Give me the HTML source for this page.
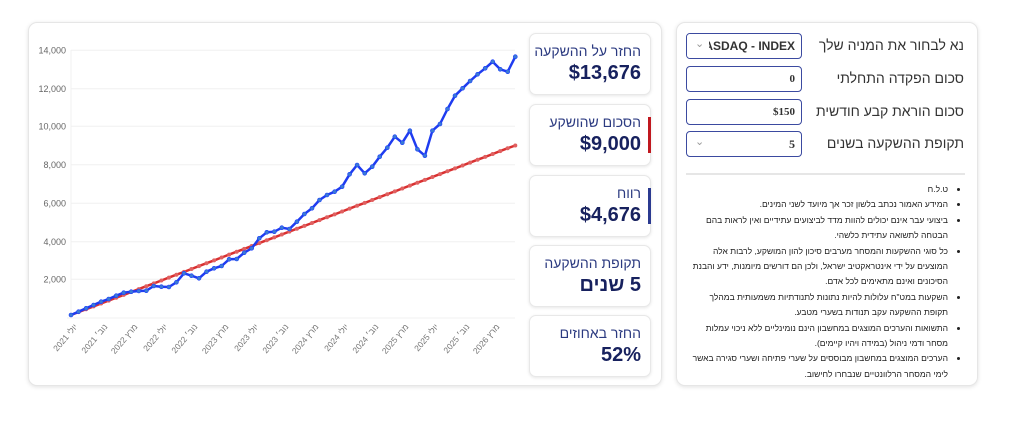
<!DOCTYPE html>
<html><head><meta charset="utf-8"><style>
body{margin:0;width:1024px;height:423px;background:#fff;font-family:"Liberation Sans","Noto Sans CJK SC",sans-serif;position:relative;overflow:hidden}
.card{position:absolute;background:#fff;border:1px solid #e6e6e6;border-radius:9px;box-shadow:0 1px 4px rgba(0,0,0,.12)}
.stat{position:absolute;left:529px;width:120px;height:60px;background:#fff;border:1px solid #e8e8e8;border-radius:7px;box-shadow:0 1px 3px rgba(0,0,0,.1);direction:rtl;color:#1c2a6e}
.stat .t{position:absolute;right:9px;top:9px;font-size:14px;color:#2b3a80}
.stat .v{position:absolute;right:9px;top:28px;font-size:20px;font-weight:bold;color:#17215e}
.bar{position:absolute;right:-1px;top:12px;width:3px;height:36px}
.row{position:absolute;left:686px;width:290px;height:26px}
.lbl{position:absolute;right:12px;top:4px;font-size:14px;color:#333;direction:rtl}
.box{position:absolute;left:0;top:0;width:114px;height:24px;border:1px solid #3b4aa0;border-radius:4px;font-family:"Liberation Serif",serif;font-weight:bold;font-size:11px;color:#333;overflow:hidden}
ul{position:absolute;left:686px;top:182px;width:276px;margin:0;padding:0 14px 0 0;direction:rtl;font-size:8.5px;line-height:15.4px;color:#222;list-style:disc;box-sizing:border-box}
</style></head><body>
<div class="card" style="left:28px;top:22px;width:632px;height:362px"></div>
<div class="card" style="left:676px;top:22px;width:300px;height:362px"></div>

<svg style="position:absolute;left:0;top:0" width="1024" height="423">
<defs>
<marker id="db" markerWidth="5" markerHeight="5" refX="2.5" refY="2.5" markerUnits="userSpaceOnUse"><circle cx="2.5" cy="2.5" r="2" fill="#3a7bd5" stroke="#1a3cff" stroke-width=".6"/></marker>
<marker id="dr" markerWidth="5" markerHeight="5" refX="2.5" refY="2.5" markerUnits="userSpaceOnUse"><circle cx="2.5" cy="2.5" r="2" fill="#e06060"/></marker>
</defs>
<g stroke="#f0f0f0" stroke-width="1">
<line x1="71" y1="50.3" x2="515" y2="50.3"/><line x1="71" y1="88.7" x2="515" y2="88.7"/><line x1="71" y1="126.3" x2="515" y2="126.3"/><line x1="71" y1="164.7" x2="515" y2="164.7"/><line x1="71" y1="203.3" x2="515" y2="203.3"/><line x1="71" y1="241.7" x2="515" y2="241.7"/><line x1="71" y1="279.3" x2="515" y2="279.3"/><line x1="67" y1="318" x2="515" y2="318"/><line x1="71" y1="50" x2="71" y2="318"/>
</g>
<g font-size="9" fill="#666" text-anchor="end" font-family="Liberation Sans,sans-serif">
<text x="66" y="53.5">14,000</text><text x="66" y="92">12,000</text><text x="66" y="129.5">10,000</text><text x="66" y="168">8,000</text><text x="66" y="206.5">6,000</text><text x="66" y="245">4,000</text><text x="66" y="282.5">2,000</text>
</g>
<g font-size="8.5" fill="#777" text-anchor="end" font-family="Liberation Sans,Noto Sans CJK SC,sans-serif">
<text transform="translate(78,327) rotate(-50)">יולי 2021</text>
<text transform="translate(108,327) rotate(-50)">נוב׳ 2021</text>
<text transform="translate(138,327) rotate(-50)">מרץ 2022</text>
<text transform="translate(168,327) rotate(-50)">יולי 2022</text>
<text transform="translate(198,327) rotate(-50)">נוב׳ 2022</text>
<text transform="translate(229,327) rotate(-50)">מרץ 2023</text>
<text transform="translate(259,327) rotate(-50)">יולי 2023</text>
<text transform="translate(289,327) rotate(-50)">נוב׳ 2023</text>
<text transform="translate(319,327) rotate(-50)">מרץ 2024</text>
<text transform="translate(349,327) rotate(-50)">יולי 2024</text>
<text transform="translate(379,327) rotate(-50)">נוב׳ 2024</text>
<text transform="translate(409,327) rotate(-50)">מרץ 2025</text>
<text transform="translate(439,327) rotate(-50)">יולי 2025</text>
<text transform="translate(470,327) rotate(-50)">נוב׳ 2025</text>
<text transform="translate(500,327) rotate(-50)">מרץ 2026</text>
</g>
<polyline fill="none" stroke="#d93030" stroke-width="2.5" marker-start="url(#dr)" marker-mid="url(#dr)" marker-end="url(#dr)" points="71,315 78.5,312.1 86.1,309.2 93.6,306.4 101.1,303.5 108.7,300.6 116.2,297.7 123.7,294.9 131.2,292 138.8,289.1 146.3,286.2 153.8,283.4 161.4,280.5 168.9,277.6 176.4,274.7 184,271.9 191.5,269 199,266.1 206.5,263.2 214.1,260.4 221.6,257.5 229.1,254.6 236.7,251.7 244.2,248.9 251.7,246 259.3,243.1 266.8,240.2 274.3,237.4 281.8,234.5 289.4,231.6 296.9,228.7 304.4,225.9 312,223 319.5,220.1 327,217.2 334.6,214.4 342.1,211.5 349.6,208.6 357.1,205.7 364.7,202.9 372.2,200 379.7,197.1 387.3,194.2 394.8,191.4 402.3,188.5 409.9,185.6 417.4,182.7 424.9,179.9 432.4,177 440,174.1 447.5,171.2 455,168.4 462.6,165.5 470.1,162.6 477.6,159.7 485.2,156.9 492.7,154 500.2,151.1 507.7,148.2 515.3,145.5"/>
<polyline fill="none" stroke="#1f3cf0" stroke-width="2.5" stroke-linejoin="round" marker-start="url(#db)" marker-mid="url(#db)" marker-end="url(#db)" points="71,315 78.5,311.7 86.1,308.3 93.6,305 101.1,301.7 108.7,299 116.2,295.7 123.7,292.7 131.2,291.7 138.8,291 146.3,290.7 153.8,286 161.4,286.7 168.9,287 176.4,282.3 184,273.3 191.5,275.7 199,278.3 206.5,271.7 214.1,268.3 221.6,266 229.1,259.3 236.7,259 244.2,252.7 251.7,248.3 259.3,238.3 266.8,232.3 274.3,231.7 281.8,227.7 289.4,229 296.9,221.7 304.4,214 312,208.3 319.5,200 327,195 334.6,191.7 342.1,186.7 349.6,174.3 357.1,165 364.7,173.3 372.2,166.7 379.7,156.7 387.3,147.7 394.8,136.7 402.3,142.7 409.9,130.7 417.4,149.3 424.9,155.7 432.4,130.7 440,124 447.5,109 455,95.7 462.6,88.3 470.1,81 477.6,74.3 485.2,68.3 492.7,61.7 500.2,69.3 507.7,71.7 515.3,56.7"/>
<line x1="686" y1="174" x2="965" y2="174" stroke="#ccc"/>
</svg>

<div class="stat" style="top:33px"><div class="t">החזר על ההשקעה</div><div class="v">$13,676</div></div>
<div class="stat" style="top:104px"><div class="bar" style="background:#c0181f"></div><div class="t">הסכום שהושקע</div><div class="v">$9,000</div></div>
<div class="stat" style="top:175px"><div class="bar" style="background:#2b3a90"></div><div class="t">רווח</div><div class="v">$4,676</div></div>
<div class="stat" style="top:245px"><div class="t">תקופת ההשקעה</div><div class="v">5 שנים</div></div>
<div class="stat" style="top:315px"><div class="t">החזר באחוזים</div><div class="v">52%</div></div>

<div class="row" style="top:33px"><div class="box"><span style="position:absolute;right:6px;top:5px;font-family:Liberation Sans;font-size:12px;white-space:nowrap">NASDAQ - INDEX</span><span style="position:absolute;left:0;top:0;width:22px;height:24px;background:#fff"></span><span style="position:absolute;left:8px;top:3px;color:#999;font-family:Liberation Sans;font-weight:normal">⌄</span></div><div class="lbl">נא לבחור את המניה שלך</div></div>
<div class="row" style="top:66px"><div class="box"><span style="position:absolute;right:6px;top:6px">0</span></div><div class="lbl">סכום הפקדה התחלתי</div></div>
<div class="row" style="top:99px"><div class="box"><span style="position:absolute;right:6px;top:6px">$150</span></div><div class="lbl">סכום הוראת קבע חודשית</div></div>
<div class="row" style="top:131px"><div class="box"><span style="position:absolute;left:8px;top:3px;color:#999;font-family:Liberation Sans;font-weight:normal">⌄</span><span style="position:absolute;right:6px;top:5px;font-size:12px">5</span></div><div class="lbl">תקופת ההשקעה בשנים</div></div>

<ul>
<li>ט.ל.ח</li>
<li>המידע האמור נכתב בלשון זכר אך מיועד לשני המינים.</li>
<li>ביצועי עבר אינם יכולים להוות מדד לביצועים עתידיים ואין לראות בהם הבטחה לתשואה עתידית כלשהי.</li>
<li>כל סוגי ההשקעות והמסחר מערבים סיכון להון המושקע, לרבות אלה המוצעים על ידי אינטראקטיב ישראל, ולכן הם דורשים מיומנות, ידע והבנת הסיכונים ואינם מתאימים לכל אדם.</li>
<li>השקעות במט"ח עלולות להיות נתונות לתנודתיות משמעותית במהלך תקופת ההשקעה עקב תנודות בשערי מטבע.</li>
<li>התשואות והערכים המוצגים במחשבון הינם נומינליים ללא ניכוי עמלות מסחר ודמי ניהול (במידה ויהיו קיימים).</li>
<li>הערכים המוצגים במחשבון מבוססים על שערי פתיחה ושערי סגירה באשר לימי המסחר הרלוונטיים שנבחרו לחישוב.</li>
</ul>
</body></html>
